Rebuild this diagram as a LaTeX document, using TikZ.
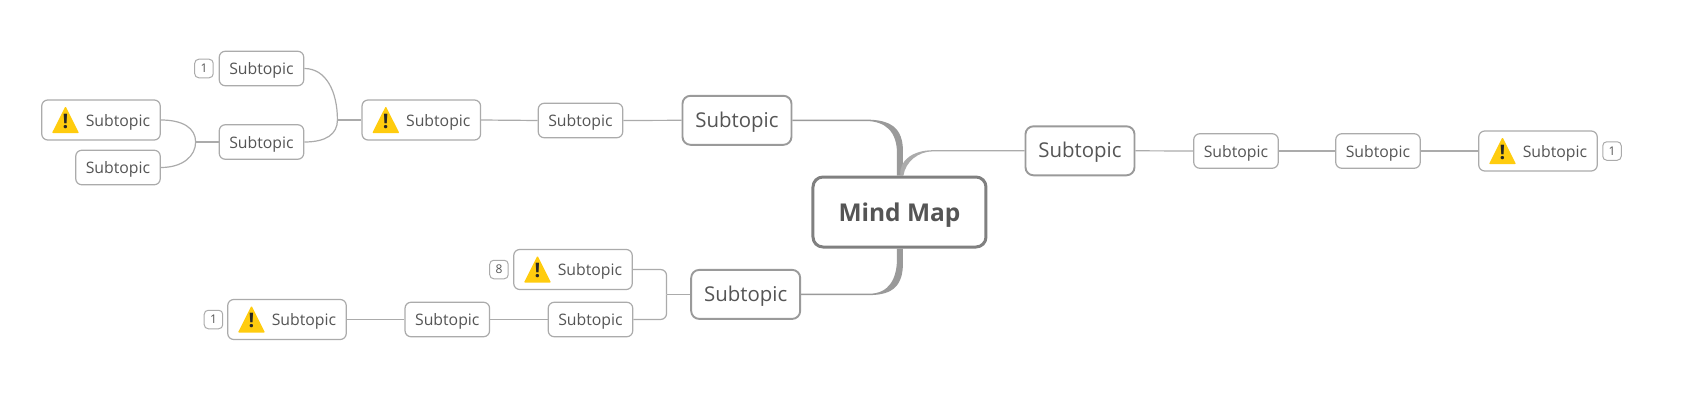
\documentclass[tikz,border=0pt]{standalone}
\usepackage{fontspec}
\setmainfont{Open Sans}
\usetikzlibrary{positioning}
\definecolor{inkgrey}{HTML}{555555}
\definecolor{linkgrey}{HTML}{ABABAB}
\definecolor{trunkgrey}{HTML}{9A9A9A}
\definecolor{warnyellow}{HTML}{FFCC0E}

\begin{document}
\begin{tikzpicture}[
    on grid,
    every node/.style={text=inkgrey},
    leaf/.style={draw=linkgrey, line width=1.2pt, rounded corners=6pt, fill=white,
        minimum width=84.5pt, minimum height=34.5pt, inner sep=0pt,
        text height=16.4pt, text depth=4pt, font=\fontsize{15.8}{20}\selectfont},
    warnleaf/.style={leaf, minimum width=118.5pt, minimum height=40pt},
    branch/.style={leaf, draw=trunkgrey, line width=1.9pt, rounded corners=8pt,
        minimum width=109pt, minimum height=49pt,
        text height=19.4pt, text depth=5.2pt, font=\fontsize{20.4}{26}\selectfont},
    hub/.style={leaf, draw=black!50, line width=3pt, rounded corners=10pt,
        minimum width=173pt, minimum height=70pt,
        text height=25pt, text depth=5.6pt, font=\fontsize{24.5}{28}\selectfont\bfseries},
    badge/.style={draw=linkgrey, line width=1pt, rounded corners=4pt, fill=white,
        minimum size=18.5pt, inner sep=0pt, font=\fontsize{12}{14}\selectfont},
    link/.style={draw=linkgrey, line width=1.2pt},
    trunk/.style={fill=trunkgrey},
    warnsign/.pic={
        \fill[warnyellow, rounded corners=1pt] (0pt,13.8pt) -- (13.6pt,-13.2pt) -- (-13.6pt,-13.2pt) -- cycle;
        \node[text=black!85, inner sep=0pt, font=\fontsize{20}{22}\selectfont\bfseries] at (0pt,-1pt) {!};
    }
]

   \useasboundingbox (-899.5pt,-206pt) rectangle (790.5pt,212pt);

   % Centre and main branches
   \node[hub] (root) {Mind Map};
   \node[branch] (sA) [above left=91.7pt and 162.5pt of root] {Subtopic};
   \node[branch] (sB) [above right=61.2pt and 180.5pt of root] {Subtopic};
   \node[branch] (sC) [below left=82.4pt and 153.8pt of root] {Subtopic};

   % Upper left
   \node[leaf] (mA) [below left=0.2pt and 156.5pt of sA] {Subtopic};
   \node[warnleaf] (wB) [above left=0.5pt and 159.2pt of mA] {\hspace{34pt}Subtopic};
   \node[leaf] (tA) [above left=51.5pt and 159.8pt of wB] {Subtopic};
   \node[leaf] (tB) [below=73.5pt of tA] {Subtopic};
   \node[warnleaf] (wA) [above left=22pt and 160.5pt of tB] {\hspace{34pt}Subtopic};
   \node[leaf] (tC) [below left=25.5pt and 143.5pt of tB] {Subtopic};
   \node[badge] (bA) [left=57.5pt of tA] {1};

   % Right
   \node[leaf] (mB) [below right=0.2pt and 156pt of sB] {Subtopic};
   \node[leaf] (mC) [right=142pt of mB] {Subtopic};
   \node[warnleaf] (wD) [right=160pt of mC] {\hspace{34pt}Subtopic};
   \node[badge] (bD) [right=74pt of wD] {1};

   % Lower left
   \node[warnleaf] (wC) [above left=24.9pt and 172.7pt of sC] {\hspace{34pt}Subtopic};
   \node[leaf] (tD) [below right=50pt and 17.5pt of wC] {Subtopic};
   \node[badge] (bC) [left=74pt of wC] {8};
   \node[leaf] (mD) [left=143.2pt of tD] {Subtopic};
   \node[warnleaf] (wE) [left=160.3pt of mD] {\hspace{34pt}Subtopic};
   \node[badge] (bE) [left=73.5pt of wE] {1};

   % Warning signs
   \foreach \wname in {wA, wB, wC, wD, wE}
      \pic at ([xshift=-35.5pt]\wname.center) {warnsign};

   % Join points
   \coordinate[right=73pt of sA.east] (kA);
   \coordinate[left=92pt of sB.west] (kB);
   \coordinate[right=68pt of sC.east] (kC);
   \coordinate[left=24pt of wB.west] (jB);
   \coordinate[left=23pt of tB.west] (jA);
   \coordinate[left=23.7pt of sC.west] (jC);

   % Tapered trunks
   \fill[trunk] ([xshift=3.5pt]root.north) -- ++(0,24pt) .. controls +(0,24pt) and +(25pt,0) .. ([yshift=0.7pt]kA)
      -- ([yshift=0.7pt]sA.east) -- ([yshift=-0.7pt]sA.east) -- ([yshift=-0.7pt]kA)
      .. controls +(20pt,0) and +(0,22pt) .. ([xshift=-2.5pt,yshift=22pt]root.north) -- ([xshift=-2.5pt]root.north) -- cycle;
   \fill[trunk] ([xshift=3.5pt]root.south) -- ++(0,-14pt) .. controls +(0,-22pt) and +(25pt,0) .. ([yshift=-0.7pt]kC)
      -- ([yshift=-0.7pt]sC.east) -- ([yshift=0.7pt]sC.east) -- ([yshift=0.7pt]kC)
      .. controls +(20pt,0) and +(0,-20pt) .. ([xshift=-2.5pt,yshift=-10pt]root.south) -- ([xshift=-2.5pt]root.south) -- cycle;
   \fill[linkgrey] ([xshift=4pt]root.north) .. controls +(2pt,14pt) and +(-14pt,0) .. ([yshift=-0.6pt]kB)
      -- ([yshift=-0.6pt]sB.west) -- ([yshift=0.6pt]sB.west) -- ([yshift=0.6pt]kB)
      .. controls +(-18pt,0) and +(-2pt,16pt) .. ([xshift=1pt]root.north) -- cycle;

   % Connectors
   \draw[link] (sA.west) -- (mA.east);
   \draw[link] (mA.west) -- (wB.east);
   \draw[link] (wB.west) -- (jB);
   \draw[link] (tA.east) .. controls +(22pt,0) and +(0,28pt) .. (jB);
   \draw[link] (tB.east) .. controls +(22pt,0) and +(0,-14pt) .. (jB);
   \draw[link] (tB.west) -- (jA);
   \draw[link] (wA.east) .. controls +(22pt,0) and +(0,14pt) .. (jA);
   \draw[link] (tC.east) .. controls +(22pt,0) and +(0,-14pt) .. (jA);

   \draw[link] (sB.east) -- (mB.west);
   \draw[link] (mB.east) -- (mC.west);
   \draw[link] (mC.east) -- (wD.west);

   \draw[link] (sC.west) -- (jC);
   \draw[link, rounded corners=6pt] (wC.east) -| (jC);
   \draw[link, rounded corners=6pt] (tD.east) -| (jC);
   \draw[link] (tD.west) -- (mD.east);
   \draw[link] (mD.west) -- (wE.east);

\end{tikzpicture}
\end{document}
